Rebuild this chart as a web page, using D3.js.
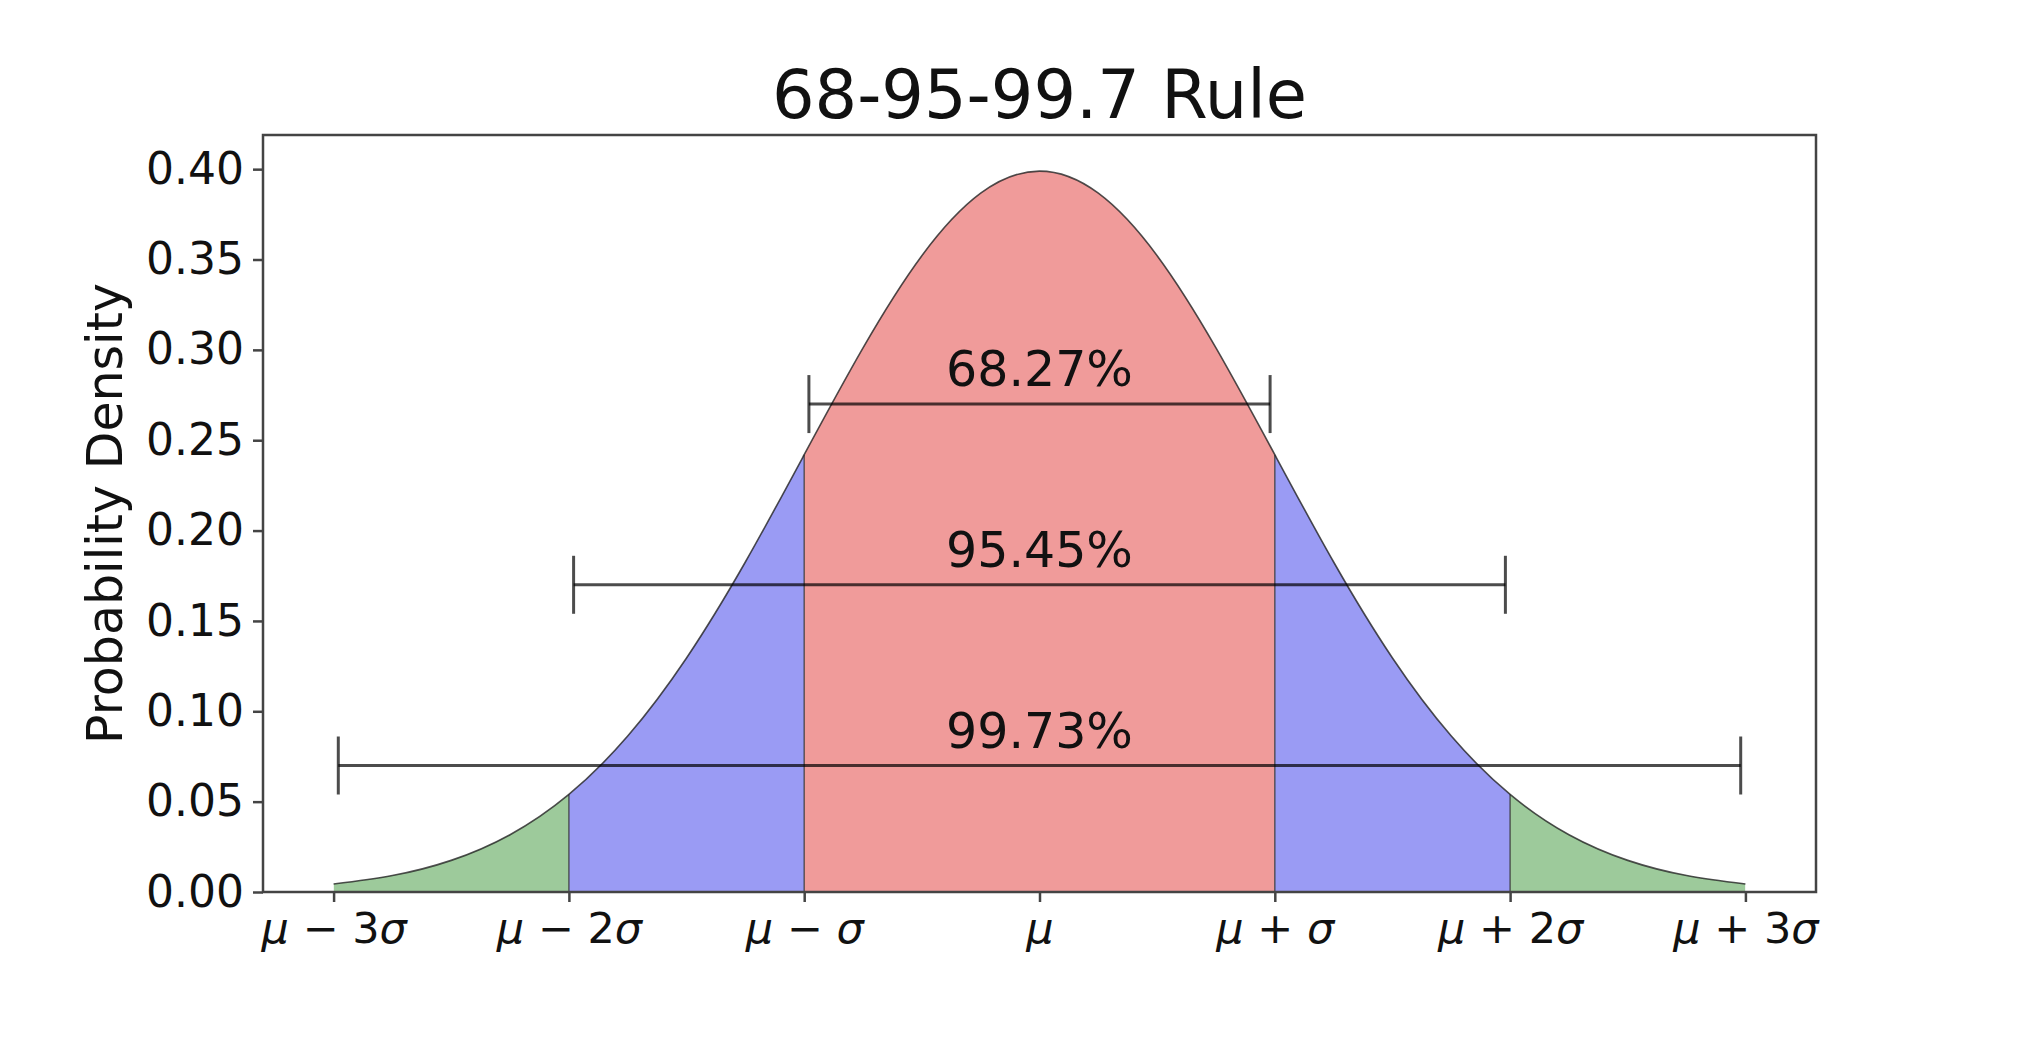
<!DOCTYPE html>
<html>
<head>
<meta charset="utf-8">
<script src="https://cdn.jsdelivr.net/npm/d3@7"></script>
<style>
  body { margin: 0; background: white; }
  text { font-family: "DejaVu Sans", sans-serif; }
</style>
</head>
<body>
<div id="chart"></div>
<script>
let w = 2036;
let h = 1058;

// density, in units of sigma from the mean
let sigmas = [-3, -2.75, -2.5, -2.25, -2, -1.75, -1.5, -1.25, -1, -0.75, -0.5, -0.25, 0,
  0.25, 0.5, 0.75, 1, 1.25, 1.5, 1.75, 2, 2.25, 2.5, 2.75, 3];
let density = [0.0044, 0.0091, 0.0175, 0.0317, 0.0540, 0.0863, 0.1295, 0.1826, 0.2420, 0.3011, 0.3521, 0.3867, 0.3989,
  0.3867, 0.3521, 0.3011, 0.2420, 0.1826, 0.1295, 0.0863, 0.0540, 0.0317, 0.0175, 0.0091, 0.0044];

// shaded bands: [from, to] in sigma
let bandRanges = [[-3, -2], [-2, -1], [-1, 1], [1, 2], [2, 3]];
let bandColors = ["#9dca9b", "#9a9bf4", "#f09b9a", "#9a9bf4", "#9dca9b"];

// interval bars
let barLevels = [0.27, 0.17, 0.07];
let barHalfWidths = [0.98, 1.98, 2.98];
let barLabels = ["68.27%", "95.45%", "99.73%"];

let xTicks = [-3, -2, -1, 0, 1, 2, 3];
let xTickLabels = ["μ − 3σ", "μ − 2σ", "μ − σ", "μ", "μ + σ", "μ + 2σ", "μ + 3σ"];
let yTicks = [0, 0.05, 0.10, 0.15, 0.20, 0.25, 0.30, 0.35, 0.40];

let margin = { left: 263, right: 220, top: 135, bottom: 166 };

let svg = d3.select("#chart")
  .append("svg")
  .attr("width", w)
  .attr("height", h)
  .style("background", "white");

let x = d3.scaleLinear().domain([-3.3, 3.3]).range([margin.left, w - margin.right]);
let y = d3.scaleLinear().domain([0, 0.4189]).range([h - margin.bottom, margin.top]);

let points = sigmas.map((s, i) => ({ s: s, d: density[i] }));

let area = d3.area()
  .x(d => x(d.s))
  .y0(y(0))
  .y1(d => y(d.d))
  .curve(d3.curveNatural);

let line = d3.line()
  .x(d => x(d.s))
  .y(d => y(d.d))
  .curve(d3.curveNatural);

// clip paths for each band
let defs = svg.append("defs");
bandRanges.forEach((r, i) => {
  defs.append("clipPath")
    .attr("id", "band" + i)
    .append("rect")
    .attr("x", x(r[0]))
    .attr("y", margin.top)
    .attr("width", x(r[1]) - x(r[0]))
    .attr("height", y(0) - margin.top);
});

svg.selectAll("path.band")
  .data(bandRanges)
  .join("path")
  .attr("class", "band")
  .attr("d", area(points))
  .attr("clip-path", (d, i) => `url(#band${i})`)
  .attr("fill", (d, i) => bandColors[i]);

// band edges
let edges = [-2, -1, 1, 2];
svg.selectAll("line.edge")
  .data(edges)
  .join("line")
  .attr("class", "edge")
  .attr("x1", d => x(d))
  .attr("x2", d => x(d))
  .attr("y1", y(0))
  .attr("y2", d => y(density[sigmas.indexOf(d)]))
  .attr("stroke", "#333")
  .attr("stroke-opacity", 0.75)
  .attr("stroke-width", 1.5);

svg.append("path")
  .attr("d", line(points))
  .attr("fill", "none")
  .attr("stroke", "#222")
  .attr("stroke-opacity", 0.8)
  .attr("stroke-width", 1.6);

// interval bars
let bars = svg.selectAll("g.bar")
  .data(barLevels)
  .join("g")
  .attr("class", "bar");

bars.append("line")
  .attr("x1", (d, i) => x(-barHalfWidths[i]))
  .attr("x2", (d, i) => x(barHalfWidths[i]))
  .attr("y1", d => y(d))
  .attr("y2", d => y(d));

bars.append("line")
  .attr("x1", (d, i) => x(-barHalfWidths[i]))
  .attr("x2", (d, i) => x(-barHalfWidths[i]))
  .attr("y1", d => y(d) - 29)
  .attr("y2", d => y(d) + 29);

bars.append("line")
  .attr("x1", (d, i) => x(barHalfWidths[i]))
  .attr("x2", (d, i) => x(barHalfWidths[i]))
  .attr("y1", d => y(d) - 29)
  .attr("y2", d => y(d) + 29);

bars.selectAll("line")
  .attr("stroke", "black")
  .attr("stroke-opacity", 0.7)
  .attr("stroke-width", 3);

bars.append("text")
  .attr("x", x(0))
  .attr("y", d => y(d) - 18)
  .attr("text-anchor", "middle")
  .attr("font-size", 49)
  .attr("fill", "#111")
  .text((d, i) => barLabels[i]);

// axes
let yAxis = svg.append("g")
  .attr("transform", `translate(${margin.left},0)`)
  .call(d3.axisLeft(y).tickValues(yTicks).tickFormat(d3.format(".2f")).tickSize(10).tickPadding(9));

let xAxis = svg.append("g")
  .attr("transform", `translate(0,${y(0)})`)
  .call(d3.axisBottom(x).tickValues(xTicks).tickFormat("").tickSize(10));

xAxis.selectAll(".tick")
  .append("text")
  .attr("y", 51)
  .attr("text-anchor", "middle")
  .attr("fill", "#111")
  .attr("font-size", 43)
  .each(function (d, i) {
    let t = d3.select(this);
    let parts = xTickLabels[i].split(/([μσ])/).filter(p => p !== "");
    parts.forEach(p => {
      t.append("tspan")
        .attr("font-style", /[μσ]/.test(p) ? "italic" : "normal")
        .text(p);
    });
  });

svg.selectAll(".domain").remove();
svg.selectAll(".tick line").attr("stroke", "#444").attr("stroke-width", 2.5);
yAxis.selectAll(".tick text")
  .attr("font-size", 44)
  .attr("fill", "#111")
  .attr("font-family", "DejaVu Sans");

// frame
svg.append("rect")
  .attr("x", margin.left)
  .attr("y", margin.top)
  .attr("width", w - margin.right - margin.left)
  .attr("height", y(0) - margin.top)
  .attr("fill", "none")
  .attr("stroke", "#444")
  .attr("stroke-width", 2.5);

// title and y label
svg.append("text")
  .attr("x", (margin.left + w - margin.right) / 2)
  .attr("y", 118)
  .attr("text-anchor", "middle")
  .attr("font-size", 67)
  .attr("fill", "#111")
  .text("68-95-99.7 Rule");

svg.append("text")
  .attr("transform", `translate(122,${(margin.top + y(0)) / 2}) rotate(-90)`)
  .attr("text-anchor", "middle")
  .attr("font-size", 49)
  .attr("fill", "#111")
  .text("Probability Density");
</script>
</body>
</html>
